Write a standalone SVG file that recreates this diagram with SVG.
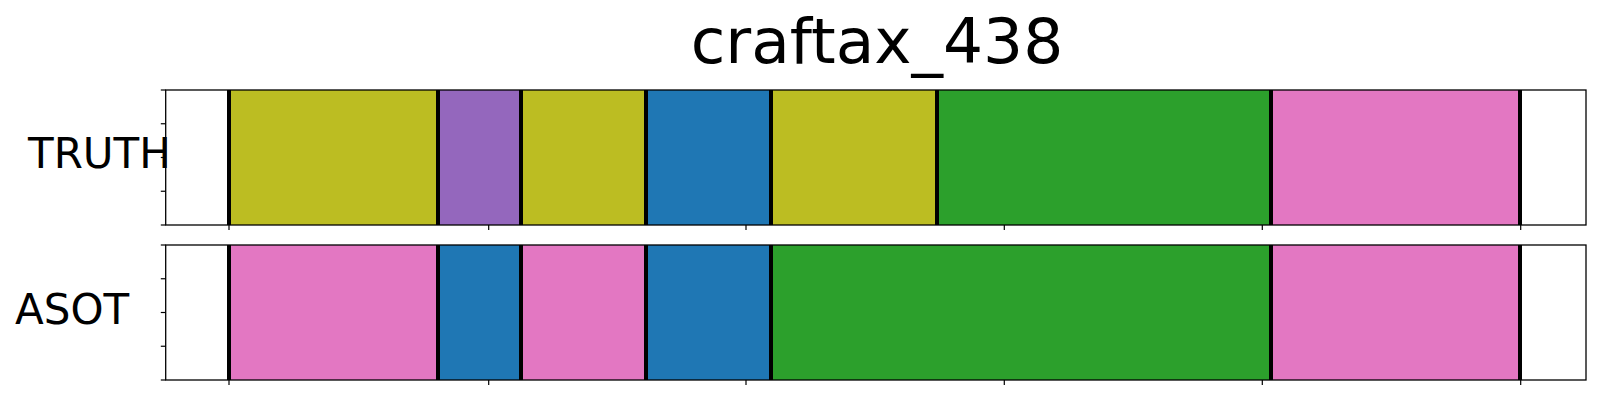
<svg xmlns="http://www.w3.org/2000/svg" width="1600" height="400" viewBox="0 0 1600 400">
<style>
.spine{fill:none;stroke:#000;stroke-width:1.3}
.tick{stroke:#000;stroke-width:1.2}
.bd{stroke:#000;stroke-width:4}
.lbl{font-family:"DejaVu Sans",sans-serif;font-size:42px;fill:#000}
.title{font-family:"DejaVu Sans",sans-serif;font-size:63px;fill:#000}
.ol{fill:#bcbd22}.pu{fill:#9467bd}.bl{fill:#1f77b4}.gr{fill:#2ca02c}.pk{fill:#e377c2}
</style>
<rect width="1600" height="400" fill="#fff"/>
<text class="title" x="877" y="63" text-anchor="middle">craftax_438</text>
<g id="truth">
<rect class="ol" x="229" y="90" width="209" height="135"/>
<rect class="pu" x="438" y="90" width="83" height="135"/>
<rect class="ol" x="521" y="90" width="125" height="135"/>
<rect class="bl" x="646" y="90" width="125" height="135"/>
<rect class="ol" x="771" y="90" width="166" height="135"/>
<rect class="gr" x="937" y="90" width="334" height="135"/>
<rect class="pk" x="1271" y="90" width="249.5" height="135"/>
<g class="bd">
<line x1="229" y1="90" x2="229" y2="225"/><line x1="438" y1="90" x2="438" y2="225"/>
<line x1="521" y1="90" x2="521" y2="225"/><line x1="646" y1="90" x2="646" y2="225"/>
<line x1="771" y1="90" x2="771" y2="225"/><line x1="937" y1="90" x2="937" y2="225"/>
<line x1="1271" y1="90" x2="1271" y2="225"/><line x1="1520" y1="90" x2="1520" y2="225"/>
</g>
<rect class="spine" x="165.7" y="90" width="1420.3" height="135"/>
<g class="tick">
<line x1="160.8" y1="90" x2="165.7" y2="90"/><line x1="160.8" y1="123.75" x2="165.7" y2="123.75"/>
<line x1="160.8" y1="157.5" x2="165.7" y2="157.5"/><line x1="160.8" y1="191.25" x2="165.7" y2="191.25"/>
<line x1="160.8" y1="225" x2="165.7" y2="225"/>
<line x1="229" y1="225" x2="229" y2="229.9"/><line x1="488.7" y1="225" x2="488.7" y2="229.9"/>
<line x1="746" y1="225" x2="746" y2="229.9"/><line x1="1004.3" y1="225" x2="1004.3" y2="229.9"/>
<line x1="1262.3" y1="225" x2="1262.3" y2="229.9"/><line x1="1520.7" y1="225" x2="1520.7" y2="229.9"/>
</g>
<text class="lbl" x="28" y="168">TRUTH</text>
</g>
<g id="asot">
<rect class="pk" x="229" y="245" width="209" height="135"/>
<rect class="bl" x="438" y="245" width="83" height="135"/>
<rect class="pk" x="521" y="245" width="125" height="135"/>
<rect class="bl" x="646" y="245" width="125" height="135"/>
<rect class="gr" x="771" y="245" width="500" height="135"/>
<rect class="pk" x="1271" y="245" width="249.5" height="135"/>
<g class="bd">
<line x1="229" y1="245" x2="229" y2="380"/><line x1="438" y1="245" x2="438" y2="380"/>
<line x1="521" y1="245" x2="521" y2="380"/><line x1="646" y1="245" x2="646" y2="380"/>
<line x1="771" y1="245" x2="771" y2="380"/><line x1="1271" y1="245" x2="1271" y2="380"/>
<line x1="1520" y1="245" x2="1520" y2="380"/>
</g>
<rect class="spine" x="165.7" y="245" width="1420.3" height="135"/>
<g class="tick">
<line x1="160.8" y1="245" x2="165.7" y2="245"/><line x1="160.8" y1="278.75" x2="165.7" y2="278.75"/>
<line x1="160.8" y1="312.5" x2="165.7" y2="312.5"/><line x1="160.8" y1="346.25" x2="165.7" y2="346.25"/>
<line x1="160.8" y1="380" x2="165.7" y2="380"/>
<line x1="229" y1="380" x2="229" y2="384.9"/><line x1="488.7" y1="380" x2="488.7" y2="384.9"/>
<line x1="746" y1="380" x2="746" y2="384.9"/><line x1="1004.3" y1="380" x2="1004.3" y2="384.9"/>
<line x1="1262.3" y1="380" x2="1262.3" y2="384.9"/><line x1="1520.7" y1="380" x2="1520.7" y2="384.9"/>
</g>
<text class="lbl" x="15" y="324">ASOT</text>
</g>
</svg>
